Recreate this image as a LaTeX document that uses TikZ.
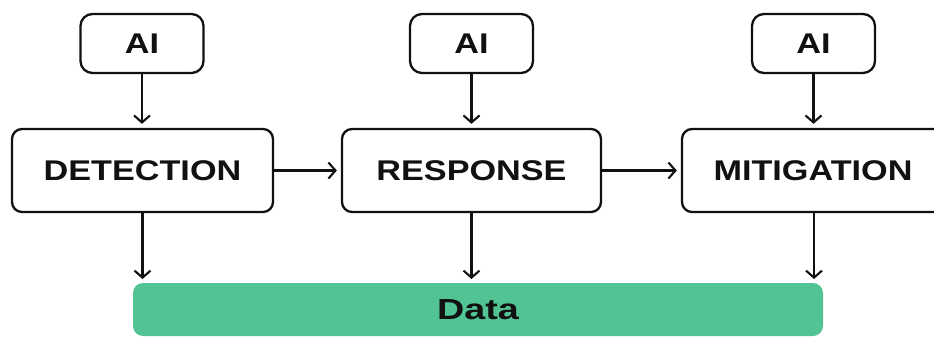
\documentclass[tikz,border=0pt]{standalone}
\usepackage{fontspec}
\usetikzlibrary{arrows.meta}
\newfontfamily\labfont{Liberation Sans}[FakeStretch=1.2]
\newfontfamily\datafont{Liberation Sans}[FakeStretch=1.3]
\definecolor{datagreen}{HTML}{52C493}
\definecolor{ink}{HTML}{111111}
\tikzset{
  aibox/.style={draw=ink, line width=2.3pt, rounded corners=12pt, minimum width=123pt, minimum height=59pt, inner sep=0pt, font=\labfont\bfseries\fontsize{28.5}{30}\selectfont, text=ink},
  stagebox/.style={draw=ink, line width=2.3pt, rounded corners=10pt, minimum width=260pt, minimum height=83pt, inner sep=0pt, font=\labfont\bfseries\fontsize{28.5}{30}\selectfont, text=ink},
  databox/.style={fill=datagreen, rounded corners=10pt, minimum width=690pt, minimum height=53pt, inner sep=0pt, font=\datafont\bfseries\fontsize{29}{31}\selectfont, text=ink},
  conn/.style={draw=ink, line width=2.1pt, -{Straight Barb[length=7pt,width=16pt,line width=2.1pt]}, shorten >=4pt}
}
\begin{document}
\begin{tikzpicture}[x=1pt,y=1pt]
\useasboundingbox (0,0) rectangle (934,338);
\fill[white] (0,0) rectangle (934,338);
\clip (0,0) rectangle (934,338);
% AI boxes
\node[aibox] (ai1) at (142,294.5) {AI};
\node[aibox] (ai2) at (471.5,294.5) {AI};
\node[aibox] (ai3) at (813.5,294.5) {AI};
% stage boxes
\node[stagebox, minimum width=261pt] (det) at (142.5,167.5) {DETECTION};
\node[stagebox, minimum width=259pt] (res) at (471.5,167.5) {RESPONSE};
\node[stagebox, minimum width=262pt] (mit) at (813,167.5) {MITIGATION};
% data bar
\node[databox] (data) at (478,28.5) {Data};
% arrow endpoints above the data bar
\coordinate (d1) at (142.5,55);
\coordinate (d2) at (471.5,55);
\coordinate (d3) at (814,55);
% connectors
\draw[conn] (ai1.south) -- (ai1.south |- det.north);
\draw[conn] (ai2.south) -- (ai2.south |- res.north);
\draw[conn] (ai3.south) -- (ai3.south |- mit.north);
\draw[conn] (det.east) -- (res.west);
\draw[conn] (res.east) -- (mit.west);
\draw[conn] (det.south) -- (d1);
\draw[conn] (res.south) -- (d2);
\draw[conn] (det.south -| d3) -- (d3);
\end{tikzpicture}
\end{document}
